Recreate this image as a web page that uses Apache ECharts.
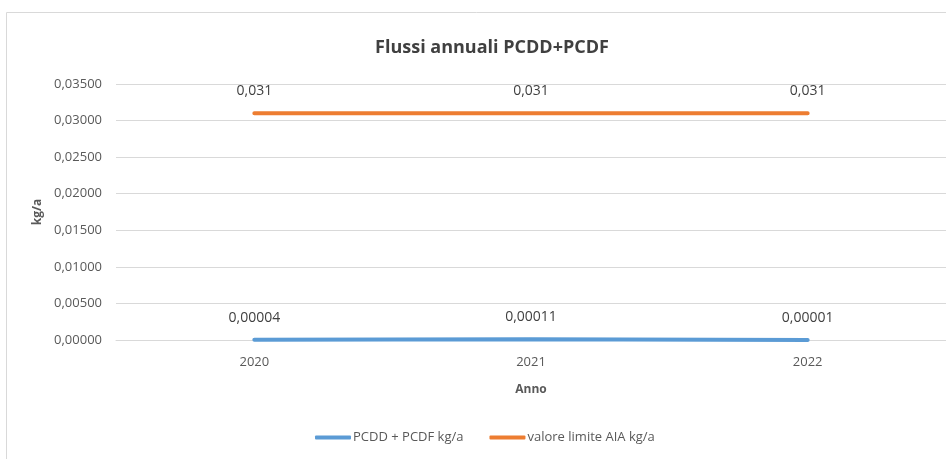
<!DOCTYPE html>
<html>
<head>
<meta charset="utf-8">
<script src="https://cdn.jsdelivr.net/npm/echarts@6/dist/echarts.min.js"></script>
<style>
  html, body { margin: 0; padding: 0; background: #fff; }
  #chart { width: 946px; height: 459px; }
</style>
</head>
<body>
<div id="chart"></div>
<script>
const years = ['2020', '2021', '2022'];
const pcddValues = [0.00004, 0.00011, 0.00001];
const limitValues = [0.031, 0.031, 0.031];
const seriesNames = ['PCDD + PCDF kg/a', 'valore limite AIA kg/a'];

const fontFam = "'Open Sans', sans-serif";
const comma = (v, d) => v.toFixed(d).replace('.', ',');

const myChart = echarts.init(document.getElementById('chart'));

myChart.setOption({
  animation: false,
  textStyle: { fontFamily: fontFam },
  title: {
    text: 'Flussi annuali PCDD+PCDF',
    left: 487,
    top: 34,
    textAlign: 'center',
    textStyle: { fontFamily: fontFam, fontSize: 18, fontWeight: 'bold', color: '#404040' }
  },
  graphic: [{
    type: 'rect',
    shape: { x: 6.5, y: 12.5, width: 960, height: 470 },
    style: { fill: 'none', stroke: '#d9d9d9', lineWidth: 1 },
    silent: true
  }],
  legend: {
    bottom: 10,
    left: 310,
    itemWidth: 36,
    itemHeight: 4,
    itemGap: 26,
    textStyle: { fontFamily: fontFam, fontSize: 13, color: '#595959', padding: [0, 0, 0, -3] },
    data: seriesNames.map(n => ({ name: n, icon: 'roundRect' }))
  },
  grid: { left: 116, right: 0, top: 84, bottom: 119 },
  xAxis: {
    type: 'category',
    data: years,
    name: 'Anno',
    nameLocation: 'middle',
    nameGap: 44,
    nameTextStyle: { fontFamily: fontFam, fontSize: 12, fontWeight: 'bold', color: '#595959' },
    axisLine: { lineStyle: { color: '#d9d9d9' } },
    axisTick: { show: false },
    axisLabel: { fontFamily: fontFam, fontSize: 13, color: '#595959', margin: 16 }
  },
  yAxis: {
    type: 'value',
    min: 0,
    max: 0.035,
    interval: 0.005,
    name: 'kg/a',
    nameLocation: 'middle',
    nameGap: 72,
    nameTextStyle: { fontFamily: fontFam, fontSize: 12, fontWeight: 'bold', color: '#595959' },
    axisLine: { show: false },
    axisTick: { show: false },
    splitLine: { lineStyle: { color: '#d9d9d9', width: 1 } },
    axisLabel: {
      fontFamily: fontFam, fontSize: 13, color: '#595959', margin: 14,
      formatter: v => comma(v, 5)
    }
  },
  series: [
    {
      name: seriesNames[0],
      type: 'line',
      data: pcddValues,
      symbol: 'circle',
      symbolSize: 0,
      showSymbol: true,
      lineStyle: { color: '#5b9bd5', width: 4, cap: 'round' },
      itemStyle: { color: '#5b9bd5' },
      label: {
        show: true, position: 'top', distance: 15,
        fontFamily: fontFam, fontSize: 14, color: '#404040',
        formatter: p => comma(p.value, 5)
      }
    },
    {
      name: seriesNames[1],
      type: 'line',
      data: limitValues,
      symbol: 'circle',
      symbolSize: 0,
      showSymbol: true,
      lineStyle: { color: '#ed7d31', width: 4, cap: 'round' },
      itemStyle: { color: '#ed7d31' },
      label: {
        show: true, position: 'top', distance: 15,
        fontFamily: fontFam, fontSize: 14, color: '#404040',
        formatter: p => comma(p.value, 3)
      }
    }
  ]
});
</script>
</body>
</html>
